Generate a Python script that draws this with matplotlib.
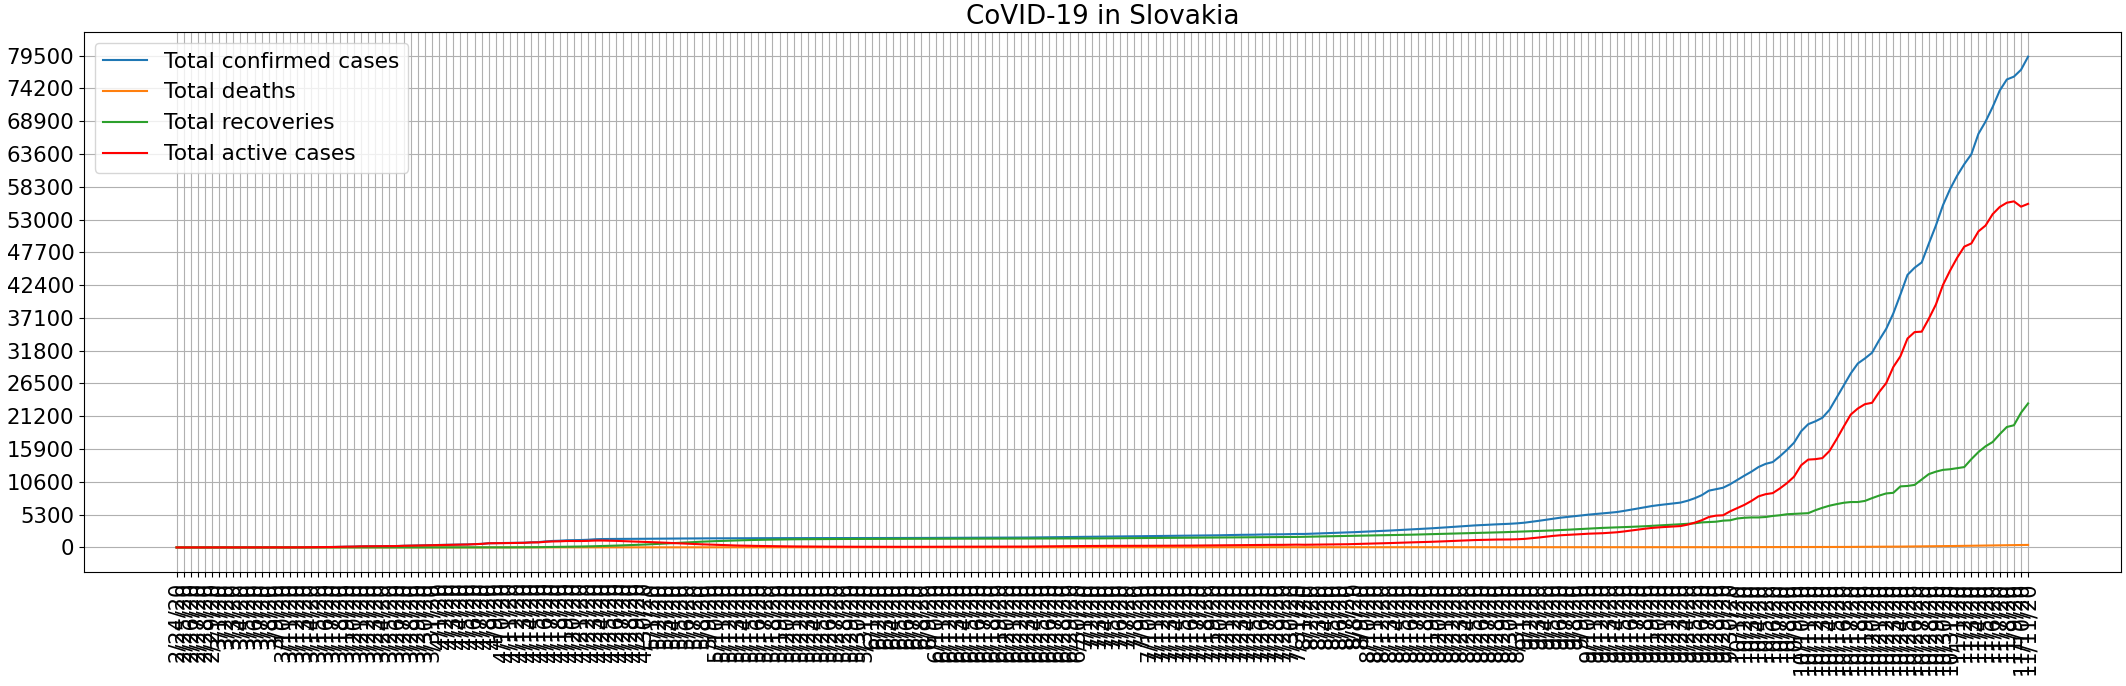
import matplotlib
matplotlib.use("Agg")
import matplotlib.pyplot as plt
import pandas as pd

# ---- categories (dates) ----
dates = [d.strftime("%-m/%-d/%y") for d in pd.date_range("2020-02-24", "2020-11-11")]

# ---- series values ----
confirmed = (
    [0] * 11
    + [1, 3, 5, 7, 7, 10, 16, 32, 44, 54, 63, 72, 105, 123, 137, 178, 185, 186, 204, 216,
       226, 269, 292, 314, 336, 363]
    + [400, 426, 450, 471, 485, 534, 581, 682, 701, 715, 728, 742, 769, 835, 863, 977, 1049,
       1089, 1161, 1173, 1199, 1244, 1325, 1360, 1373, 1379, 1381, 1384, 1396, 1403]
    + [1408, 1413, 1421, 1429, 1445, 1455, 1457, 1465, 1469, 1477, 1479, 1480, 1480, 1494,
       1495, 1496, 1502, 1503, 1504, 1509, 1511, 1511, 1513, 1515, 1515, 1515, 1520, 1520,
       1520, 1521, 1522]
    + [1522, 1526, 1528, 1528, 1529, 1530, 1531, 1533, 1541, 1552, 1553, 1556, 1557, 1561,
       1562, 1565, 1579, 1587, 1588, 1589, 1591, 1600, 1605, 1616, 1627, 1630, 1643, 1667,
       1687, 1700]
    + [1700, 1720, 1745, 1755, 1764, 1765, 1778, 1794, 1813, 1820, 1830, 1845, 1866, 1875,
       1884, 1901, 1920, 1930, 1952, 1966, 1994, 2021, 2038, 2049, 2062, 2092, 2102, 2112,
       2129, 2155, 2181]
    + [2181, 2220, 2260, 2300, 2340, 2380, 2420, 2470, 2520, 2570, 2620, 2670, 2730, 2790,
       2850, 2910, 2970, 3030, 3100, 3170, 3250, 3330, 3420, 3500, 3560, 3620, 3680, 3730,
       3780, 3830, 3900]
    + [4000, 4150, 4300, 4470, 4650, 4800, 4920, 5040, 5170, 5300, 5400, 5500, 5610, 5720,
       5900, 6100, 6300, 6500, 6700, 6850, 6980, 7100, 7250, 7550, 7950]
    + [8450, 9180, 9420, 9650, 10220, 10910, 11600, 12250, 13000, 13510, 13800, 14720, 15760,
       16920, 18770, 19920, 20380, 20960, 22240, 24200, 26150, 28130, 29740, 30550, 31470,
       33500, 35340, 37830, 40880, 44060, 45210, 46070, 49090, 52030, 55320, 57920, 60100,
       61950, 63560, 66860, 68830, 71190, 73850, 75640, 76100, 77200, 79330]
)

deaths = (
    [0] * 38
    + [1, 1, 1, 1, 1, 1, 2, 2, 2, 2, 2, 2, 2, 2, 2, 6, 8, 11, 12, 12, 12, 14, 15, 17, 18, 20,
       20, 22, 23]
    + [24, 25, 25, 25, 25, 26, 26, 26, 26, 26, 27, 27, 27, 27] + [28] * 17
    + [28] * 30
    + [28] * 10 + [29] * 21
    + [29, 29, 29, 30, 31, 31, 31, 31, 32, 32, 32, 32, 33, 33, 33, 34, 34, 34, 34, 35, 35, 35,
       35, 36, 36, 36, 36, 36, 37, 37, 37]
    + [38, 38, 38, 38, 38, 38, 39, 39, 39, 39, 39, 40, 40, 40, 40, 40, 40, 41, 41, 41, 42, 42,
       43, 44, 44]
    + [44, 45, 45, 46, 47]
    + [48, 50, 52, 54, 56, 58, 60, 62, 64, 66, 68, 70, 72, 75, 77, 80, 85, 90, 96, 102, 110,
       118, 127, 137, 148, 160, 172, 185, 199, 213, 226]
    + [241, 257, 272, 288, 304, 320, 336, 352, 370, 390, 410]
)

recovered = (
    [0] * 25
    + [0, 0, 0, 0, 2, 2, 2, 2, 2, 2, 3, 3]
    + [3, 4, 5, 5, 6, 7, 7, 8, 8, 14, 14, 18, 20, 28, 45, 60, 75, 90, 110, 130, 150, 170, 200,
       230, 260, 300, 340, 380, 420, 470]
    + [520, 580, 640, 700, 760, 820, 880, 930, 980, 1020, 1060, 1100, 1140, 1170, 1200, 1230,
       1250, 1270, 1290, 1310, 1320, 1330, 1340, 1350, 1355, 1360, 1365, 1370, 1375, 1380, 1385]
    + [1390, 1392, 1394, 1396, 1398, 1400, 1402, 1404, 1406, 1408, 1410, 1412, 1414, 1416,
       1418, 1420, 1422, 1424, 1426, 1428, 1430, 1432, 1434, 1436, 1438, 1440, 1442, 1444,
       1446, 1448]
    + [1450, 1458, 1466, 1474, 1482, 1490, 1498, 1506, 1514, 1522, 1530, 1538, 1546, 1554,
       1562, 1570, 1578, 1586, 1594, 1602, 1610, 1618, 1626, 1634, 1642, 1650, 1660, 1670,
       1680, 1690, 1700]
    + [1720, 1745, 1770, 1795, 1820, 1845, 1870, 1890, 1910, 1930, 1950, 1970, 1990, 2010,
       2030, 2060, 2090, 2120, 2150, 2180, 2210, 2240, 2270, 2300, 2330, 2360, 2390, 2420,
       2460, 2500, 2540]
    + [2580, 2620, 2660, 2700, 2750, 2800, 2860, 2920, 2980, 3040, 3100, 3160, 3200, 3230,
       3280, 3330, 3380, 3430, 3500, 3560, 3620, 3680, 3750, 3820, 3900]
    + [4050, 4100, 4160, 4330, 4390, 4680, 4800, 4850, 4850, 4920, 5090, 5200, 5370, 5430,
       5490, 5540, 6010, 6410, 6750, 7000, 7220, 7340, 7340, 7520, 7970, 8380, 8730, 8830,
       9870, 9940, 10110, 10980, 11850, 12250, 12540, 12640, 12820, 12990, 14270, 15420,
       16350, 17040, 18310, 19470, 19750, 21770, 23280]
)

active = (
    [0] * 11
    + [1, 3, 5, 7, 7, 10, 16, 32, 44, 54, 63, 72, 105, 123]
    + [137, 178, 185, 186, 202, 214, 224, 267, 290, 312, 333, 360]
    + [397, 421, 444, 465, 478, 526, 573, 672, 691, 699, 712, 722, 747, 805, 816, 915, 968,
       991, 1040, 1031, 1037, 1062, 1111, 1115, 1096, 1061, 1021, 984, 954, 910]
    + [864, 808, 756, 704, 660, 609, 551, 509, 463, 431, 392, 353, 313, 297, 267, 238, 224,
       205, 186, 171, 163, 153, 145, 137, 132, 127, 127, 122, 117, 113, 109]
    + [104, 106, 106, 104, 103, 102, 101, 101, 107, 116, 115, 116, 115, 117, 116, 117, 129,
       135, 134, 133, 133, 140, 143, 152, 161, 162, 173, 195, 213, 224]
    + [222, 234, 251, 253, 254, 247, 252, 260, 271, 270, 271, 278, 291, 292, 293, 302, 313,
       315, 329, 335, 355, 374, 383, 386, 391, 413, 413, 413, 420, 436, 452]
    + [432, 446, 461, 475, 489, 504, 519, 549, 578, 608, 638, 668, 707, 747, 787, 816, 846,
       876, 916, 955, 1005, 1055, 1115, 1164, 1194, 1224, 1254, 1274, 1283, 1293, 1323]
    + [1382, 1492, 1602, 1732, 1862, 1962, 2021, 2081, 2151, 2221, 2261, 2300, 2370, 2450,
       2580, 2730, 2880, 3029, 3159, 3249, 3318, 3378, 3457, 3686, 4006]
    + [4400, 4920, 5140, 5200, 5840, 6360, 6880, 7520, 8260, 8610, 8780, 9530, 10390, 11430,
       13280, 14200, 14270, 14440, 15590, 17490, 19520, 21480, 22460, 23160, 23380, 25110,
       26570, 29170, 30900, 33770, 34810, 34880, 36960, 39260, 42430, 44750, 46830, 48620,
       49140, 51090, 52030, 53870, 55030, 55720, 55940, 55080, 55540]
)

y_ticks = [0, 5300, 10600, 15900, 21200, 26500, 31800, 37100, 42400, 47700, 53000,
           58300, 63600, 68900, 74200, 79500]

series_labels = ["Total confirmed cases", "Total deaths", "Total recoveries", "Total active cases"]
series_colors = ["tab:blue", "tab:orange", "tab:green", "red"]

fig = plt.figure(figsize=(21.26, 6.86), dpi=100)
ax = fig.add_axes([0.0395, 0.1662, 0.958, 0.787])

xs = list(range(len(dates)))
for vals, lab, col in zip([confirmed, deaths, recovered, active], series_labels, series_colors):
    ax.plot(xs, vals, label=lab, color=col, linewidth=1.5)

ax.set_xticks(xs)
ax.set_xticklabels(dates, rotation=90, fontsize=15)
ax.set_yticks(y_ticks)
ax.tick_params(axis="y", labelsize=15.3)
ax.grid(True)
ax.set_title("CoVID-19 in Slovakia", fontsize=18.8)
ax.legend(loc="upper left", fontsize=15.6)

fig.savefig("out.png", dpi=100)
